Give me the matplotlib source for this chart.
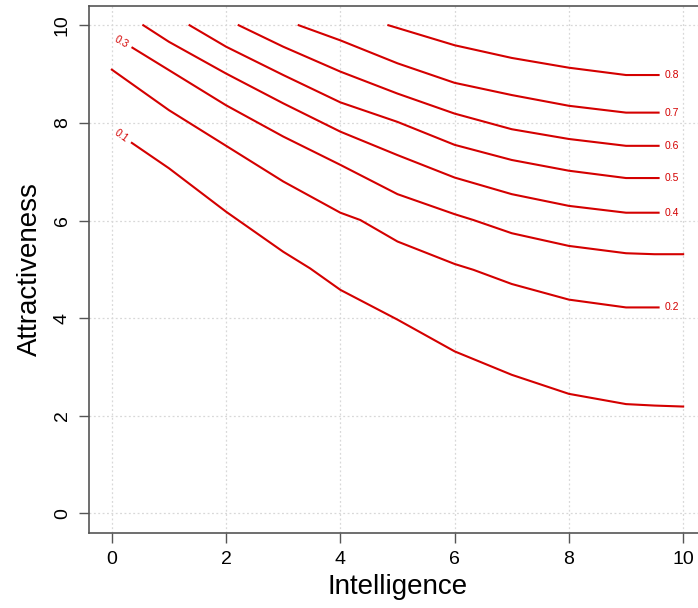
import matplotlib
matplotlib.use("Agg")
import matplotlib.pyplot as plt

plt.rcParams['font.family'] = ['Liberation Sans', 'DejaVu Sans']

# contour levels and the visible pieces of each line (Intelligence, Attractiveness)
x_01 = [0.35, 1, 2, 3, 3.47, 4, 5, 6, 7, 8, 9, 9.5, 10]
y_01 = [7.59, 7.07, 6.18, 5.36, 5.02, 4.58, 3.97, 3.32, 2.84, 2.45, 2.24, 2.21, 2.19]
x_02 = [0, 1, 2, 3, 4, 4.35, 5, 6, 6.33, 7, 8, 9, 9.57]
y_02 = [9.09, 8.26, 7.53, 6.80, 6.16, 6.01, 5.57, 5.11, 4.99, 4.70, 4.38, 4.22, 4.22]
x_03 = [0.36, 1, 2, 3, 4, 5, 6, 6.33, 7, 8, 9, 9.5, 10]
y_03 = [9.54, 9.08, 8.36, 7.72, 7.14, 6.54, 6.13, 6.01, 5.74, 5.48, 5.33, 5.31, 5.31]
x_04 = [0.55, 1, 2, 3, 4, 5, 6, 7, 8, 9, 9.57]
y_04 = [10, 9.66, 9.01, 8.40, 7.82, 7.34, 6.88, 6.54, 6.30, 6.16, 6.16]
x_05 = [1.36, 2, 3, 4, 5, 6, 7, 8, 9, 9.57]
y_05 = [10, 9.56, 8.98, 8.42, 8.02, 7.55, 7.24, 7.02, 6.87, 6.87]
x_06 = [2.22, 3, 4, 5, 6, 7, 8, 9, 9.57]
y_06 = [10, 9.56, 9.05, 8.60, 8.19, 7.87, 7.67, 7.53, 7.53]
x_07 = [3.27, 4, 5, 6, 7, 8, 9, 9.57]
y_07 = [10, 9.69, 9.22, 8.82, 8.57, 8.35, 8.21, 8.21]
x_08 = [4.84, 6, 7, 8, 9, 9.57]
y_08 = [10, 9.59, 9.33, 9.13, 8.98, 8.98]

lines_x = [x_01, x_02, x_03, x_04, x_05, x_06, x_07, x_08]
lines_y = [y_01, y_02, y_03, y_04, y_05, y_06, y_07, y_08]

# contour labels: text, position, rotation
label_text = ['0.1', '0.3', '0.2', '0.4', '0.5', '0.6', '0.7', '0.8']
label_x = [0.16, 0.175, 9.8, 9.8, 9.8, 9.8, 9.8, 9.8]
label_y = [7.74, 9.66, 4.22, 6.16, 6.87, 7.53, 8.21, 8.98]
label_rot = [-36, -30, 0, 0, 0, 0, 0, 0]

ticks = [0, 2, 4, 6, 8, 10]
red = '#d40000'

fig = plt.figure(figsize=(6.98, 6.08), dpi=100)
ax = fig.add_axes([89 / 698, 75 / 608, 617 / 698, 527.3 / 608])

for xs, ys in zip(lines_x, lines_y):
    ax.plot(xs, ys, color=red, lw=1.5, solid_joinstyle='round')

for t, lx, ly, r in zip(label_text, label_x, label_y, label_rot):
    ax.text(lx, ly, t, color=red, fontsize=7.5, rotation=r,
            ha='center', va='center', rotation_mode='anchor')

ax.set_xlim(-0.4, 10.4)
ax.set_ylim(-0.4, 10.4)
ax.set_xticks(ticks)
ax.set_yticks(ticks)
ax.grid(True, color='#d8d8d8', linestyle=(0, (1.5, 2)), lw=0.9)
ax.set_axisbelow(True)

for s in ax.spines.values():
    s.set_color('#555555')
    s.set_linewidth(1.2)

ax.tick_params(axis='both', length=7, width=1, color='#555555',
               labelsize=14, pad=6)
for lab in ax.get_yticklabels():
    lab.set_rotation(90)
    lab.set_va('center')

ax.set_xlabel('Intelligence', fontsize=20, labelpad=4)
ax.set_ylabel('Attractiveness', fontsize=20, labelpad=8)

fig.savefig('out.png', dpi=100)
